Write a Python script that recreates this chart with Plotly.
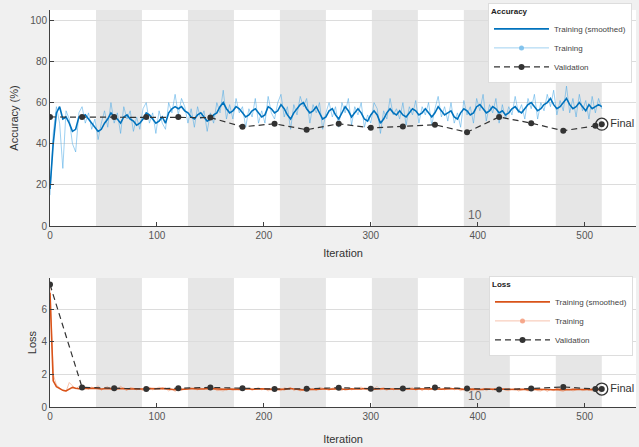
import plotly.graph_objects as go

# ---------------- data ----------------
STEP = 3  # iteration spacing of the sampled training series
acc_smooth = [18, 40, 55, 58, 52, 53, 50, 46, 47, 53, 53, 54, 52, 50, 48, 46, 47, 50, 52, 55,
              53, 52, 50, 53, 54, 52, 51, 49, 50, 52, 55, 54, 52, 50, 51, 53, 50, 55, 57, 58,
              57, 58, 56, 55, 53, 52, 54, 55, 53, 51, 52, 54, 55, 58, 60, 57, 55, 56, 58, 57,
              55, 53, 54, 56, 57, 55, 53, 54, 58, 57, 55, 56, 59, 57, 54, 52, 55, 57, 59, 60,
              57, 55, 56, 58, 55, 52, 53, 56, 57, 54, 52, 55, 58, 56, 53, 55, 57, 55, 52, 51,
              54, 56, 54, 50, 52, 55, 57, 55, 54, 56, 54, 53, 55, 57, 56, 54, 55, 57, 55, 53,
              55, 58, 56, 54, 55, 56, 53, 52, 55, 57, 56, 54, 55, 58, 59, 57, 55, 56, 58, 57,
              55, 56, 54, 55, 57, 58, 56, 55, 57, 59, 60, 58, 56, 57, 59, 60, 62, 59, 57, 58,
              60, 62, 59, 57, 58, 60, 58, 56, 59, 57, 58, 59, 58]
acc_raw = [15, 45, 58, 50, 28, 56, 52, 40, 36, 55, 58, 50, 55, 47, 52, 42, 50, 56, 48, 60,
           50, 55, 45, 58, 52, 56, 46, 53, 47, 57, 60, 50, 55, 45, 56, 50, 47, 60, 55, 64,
           54, 62, 58, 50, 57, 48, 58, 52, 56, 46, 55, 50, 60, 55, 66, 52, 59, 52, 62, 55,
           58, 48, 57, 53, 62, 50, 56, 50, 63, 55, 52, 60, 64, 53, 58, 47, 59, 54, 63, 58,
           62, 50, 59, 55, 60, 47, 55, 60, 53, 58, 48, 60, 55, 62, 49, 58, 54, 60, 48, 54,
           50, 60, 57, 45, 56, 52, 62, 54, 57, 52, 60, 49, 58, 54, 61, 50, 58, 54, 60, 49,
           57, 63, 53, 58, 51, 60, 50, 55, 48, 61, 54, 58, 50, 62, 56, 64, 51, 59, 55, 62,
           50, 59, 52, 58, 54, 63, 55, 59, 52, 62, 57, 64, 52, 60, 56, 64, 58, 66, 54, 61,
           56, 68, 55, 62, 53, 64, 56, 61, 52, 63, 55, 62, 57]
loss_smooth = [7.0, 1.6, 1.25, 1.15, 1.02, 0.98, 1.1, 1.2, 1.15, 1.12, 1.14, 1.13, 1.12, 1.14, 1.15, 1.12, 1.1, 1.12, 1.14, 1.13,
               1.11, 1.12, 1.15, 1.13, 1.1, 1.11, 1.14, 1.12, 1.1, 1.09, 1.11, 1.13, 1.12, 1.1, 1.12, 1.14, 1.12, 1.08, 1.07, 1.06,
               1.08, 1.07, 1.09, 1.1, 1.12, 1.13, 1.1, 1.09, 1.11, 1.13, 1.12, 1.1, 1.09, 1.06, 1.05, 1.08, 1.1, 1.09, 1.07, 1.08,
               1.1, 1.12, 1.11, 1.09, 1.08, 1.1, 1.12, 1.11, 1.07, 1.08, 1.1, 1.09, 1.06, 1.08, 1.11, 1.13, 1.1, 1.08, 1.06, 1.05,
               1.08, 1.1, 1.09, 1.07, 1.1, 1.13, 1.12, 1.09, 1.08, 1.11, 1.13, 1.1, 1.07, 1.09, 1.12, 1.1, 1.08, 1.1, 1.13, 1.14,
               1.11, 1.09, 1.11, 1.15, 1.13, 1.1, 1.08, 1.1, 1.11, 1.09, 1.1, 1.12, 1.1, 1.08, 1.09, 1.11, 1.1, 1.08, 1.1, 1.12,
               1.1, 1.07, 1.09, 1.11, 1.1, 1.09, 1.12, 1.13, 1.1, 1.08, 1.09, 1.11, 1.1, 1.07, 1.06, 1.08, 1.1, 1.09, 1.07, 1.08,
               1.1, 1.09, 1.11, 1.1, 1.08, 1.07, 1.09, 1.1, 1.08, 1.06, 1.05, 1.07, 1.09, 1.08, 1.06, 1.05, 1.03, 1.06, 1.08, 1.07,
               1.05, 1.03, 1.06, 1.08, 1.07, 1.05, 1.07, 1.09, 1.06, 1.08, 1.07, 1.06, 1.07]
loss_raw = [7.3, 2.0, 1.35, 1.2, 1.0, 0.95, 1.5, 1.3, 1.1, 1.25, 1.05, 1.2, 1.08, 1.22, 1.15, 1.3, 1.02, 1.18, 1.25, 1.05,
            1.15, 1.08, 1.28, 1.1, 1.0, 1.2, 1.15, 1.05, 1.12, 1.0, 1.18, 1.2, 1.05, 1.12, 1.22, 1.1, 1.15, 0.98, 1.1, 0.95,
            1.12, 1.02, 1.15, 1.1, 1.2, 1.08, 1.05, 1.15, 1.12, 1.2, 1.05, 1.15, 1.0, 1.02, 0.98, 1.15, 1.1, 1.02, 1.05, 1.12,
            1.18, 1.08, 1.15, 1.02, 1.1, 1.2, 1.05, 1.12, 0.98, 1.15, 1.1, 1.02, 1.0, 1.18, 1.12, 1.2, 1.0, 1.1, 0.98, 1.05,
            1.15, 1.05, 1.12, 1.02, 1.2, 1.15, 1.1, 1.02, 1.15, 1.18, 1.08, 1.02, 1.15, 1.2, 1.05, 1.1, 1.15, 1.22, 1.1, 1.05,
            1.12, 1.15, 1.25, 1.05, 1.1, 1.02, 1.15, 1.05, 1.1, 1.15, 1.05, 1.08, 1.12, 1.18, 1.02, 1.15, 1.0, 1.15, 1.05, 1.12,
            1.02, 1.15, 1.12, 1.05, 1.15, 1.18, 1.05, 1.12, 1.0, 1.08, 1.15, 1.02, 1.0, 1.12, 1.05, 1.15, 1.0, 1.1, 1.05, 1.15,
            1.05, 1.12, 1.02, 1.0, 1.1, 1.15, 0.98, 1.05, 1.1, 0.98, 1.08, 1.12, 1.0, 0.98, 1.1, 0.95, 1.08, 1.0, 1.12, 1.0,
            0.95, 1.08, 1.1, 0.98, 1.05, 1.12, 1.0, 1.05, 1.1, 0.98, 1.08, 1.02, 1.05]

val_iters = [0, 30, 60, 90, 120, 150, 180, 210, 240, 270, 300, 330, 360, 390, 420, 450, 480, 510, 516]
val_acc = [53, 53, 53, 53, 53, 52.7, 48.2, 49.7, 46.8, 49.7, 47.7, 48.4, 49.2, 45.6, 53, 50, 46.3, 48.7, 49.5]
val_loss = [7.5, 1.2, 1.15, 1.1, 1.15, 1.2, 1.15, 1.1, 1.12, 1.18, 1.12, 1.13, 1.19, 1.13, 1.07, 1.13, 1.23, 1.1, 1.1]

EPOCH_LEN = 43
N_EPOCHS = 12
epoch_label = "10"
epoch_label_iter = 397
x_ticks = [0, 100, 200, 300, 400, 500]

# ---------------- style ----------------
C_ACC = "#0072BD"
C_ACC_RAW = "rgba(77,170,230,0.55)"
C_LOSS = "#D95319"
C_LOSS_RAW = "rgba(240,150,110,0.55)"
C_VAL = "#333333"
FONT = "Liberation Sans"

def iters(series):
    return [STEP * i for i in range(len(series))]

fig = go.Figure()

# accuracy panel
fig.add_trace(go.Scatter(x=iters(acc_raw), y=acc_raw, mode="lines", line=dict(color=C_ACC_RAW, width=1),
                         showlegend=False, xaxis="x", yaxis="y"))
fig.add_trace(go.Scatter(x=iters(acc_smooth), y=acc_smooth, mode="lines", line=dict(color=C_ACC, width=1.6),
                         name="Training (smoothed)", legend="legend", xaxis="x", yaxis="y"))
fig.add_trace(go.Scatter(x=[None], y=[None], mode="lines+markers", line=dict(color="rgba(120,190,235,0.7)", width=1),
                         marker=dict(size=5, color="rgba(120,190,235,0.9)"),
                         name="Training", legend="legend", xaxis="x", yaxis="y"))
fig.add_trace(go.Scatter(x=val_iters, y=val_acc, mode="lines+markers",
                         line=dict(color=C_VAL, width=1.2, dash="6px,4px"), marker=dict(size=6, color=C_VAL),
                         name="Validation", legend="legend", xaxis="x", yaxis="y"))
fig.add_trace(go.Scatter(x=val_iters[-1:], y=val_acc[-1:], mode="markers+text", text=["Final"],
                         textposition="middle right", textfont=dict(family=FONT, size=11, color="#333"),
                         marker=dict(size=12, color="rgba(0,0,0,0)", line=dict(color=C_VAL, width=1.3)),
                         showlegend=False, xaxis="x", yaxis="y", cliponaxis=False))

# loss panel
fig.add_trace(go.Scatter(x=iters(loss_raw), y=loss_raw, mode="lines", line=dict(color=C_LOSS_RAW, width=1),
                         showlegend=False, xaxis="x2", yaxis="y2"))
fig.add_trace(go.Scatter(x=iters(loss_smooth), y=loss_smooth, mode="lines", line=dict(color=C_LOSS, width=1.6),
                         name="Training (smoothed)", legend="legend2", xaxis="x2", yaxis="y2"))
fig.add_trace(go.Scatter(x=[None], y=[None], mode="lines+markers", line=dict(color="rgba(245,170,140,0.7)", width=1),
                         marker=dict(size=5, color="rgba(245,160,130,0.9)"),
                         name="Training", legend="legend2", xaxis="x2", yaxis="y2"))
fig.add_trace(go.Scatter(x=val_iters, y=val_loss, mode="lines+markers",
                         line=dict(color=C_VAL, width=1.2, dash="6px,4px"), marker=dict(size=6, color=C_VAL),
                         name="Validation", legend="legend2", xaxis="x2", yaxis="y2"))
fig.add_trace(go.Scatter(x=val_iters[-1:], y=val_loss[-1:], mode="markers+text", text=["Final"],
                         textposition="middle right", textfont=dict(family=FONT, size=11, color="#333"),
                         marker=dict(size=12, color="rgba(0,0,0,0)", line=dict(color=C_VAL, width=1.3)),
                         showlegend=False, xaxis="x2", yaxis="y2", cliponaxis=False))

# epoch bands
shapes = []
for e in range(N_EPOCHS):
    if e % 2 == 1:
        for xr, yr in (("x", "y domain"), ("x2", "y2 domain")):
            shapes.append(dict(type="rect", xref=xr, yref=yr, x0=e * EPOCH_LEN, x1=(e + 1) * EPOCH_LEN,
                               y0=0, y1=1, fillcolor="#e6e6e6", line=dict(width=0), layer="below"))

annotations = [
    dict(x=epoch_label_iter, y=0, xref="x", yref="y", text=epoch_label, showarrow=False,
         yanchor="bottom", font=dict(family=FONT, size=12, color="#666"), yshift=2),
    dict(x=epoch_label_iter, y=0, xref="x2", yref="y2", text=epoch_label, showarrow=False,
         yanchor="bottom", font=dict(family=FONT, size=12, color="#666"), yshift=2),
]

XDOM = [50 / 639, 636 / 639]
axis_common = dict(showline=True, linecolor="#404040", linewidth=1, ticks="inside", ticklen=4,
                   tickcolor="#404040", tickfont=dict(family=FONT, size=10, color="#555"), zeroline=False,
                   automargin=False)

fig.update_layout(
    width=639, height=447,
    margin=dict(l=0, r=0, t=0, b=0, autoexpand=False),
    paper_bgcolor="#f0f0f0", plot_bgcolor="white",
    font=dict(family=FONT, color="#333"),
    shapes=shapes, annotations=annotations,
    xaxis=dict(domain=XDOM, range=[0, 548], tickvals=x_ticks, showgrid=False, anchor="y",
               title=dict(text="Iteration", font=dict(family=FONT, size=11, color="#333"), standoff=9),
               **axis_common),
    yaxis=dict(domain=[1 - 226 / 447, 1 - 10 / 447], range=[0, 105], tickvals=[0, 20, 40, 60, 80, 100],
               showgrid=True, gridcolor="#dcdcdc", anchor="x",
               title=dict(text="Accuracy (%)", font=dict(family=FONT, size=11, color="#333"), standoff=9),
               **axis_common),
    xaxis2=dict(domain=XDOM, range=[0, 548], tickvals=x_ticks, showgrid=False, anchor="y2",
                title=dict(text="Iteration", font=dict(family=FONT, size=11, color="#333"), standoff=14),
                **axis_common),
    yaxis2=dict(domain=[1 - 407 / 447, 1 - 278 / 447], range=[0, 7.9], tickvals=[0, 2, 4, 6],
                showgrid=True, gridcolor="#dcdcdc", anchor="x2",
                title=dict(text="Loss", font=dict(family=FONT, size=11, color="#333"), standoff=2),
                **axis_common),
    legend=dict(x=488 / 639, y=1 - 3 / 447, xanchor="left", yanchor="top", bgcolor="white",
                bordercolor="#dddddd", borderwidth=1, itemwidth=55,
                title=dict(text="<b>Accuracy</b>", font=dict(family=FONT, size=8, color="#222")),
                font=dict(family=FONT, size=8, color="#444"), tracegroupgap=0),
    legend2=dict(x=489 / 639, y=1 - 276 / 447, xanchor="left", yanchor="top", bgcolor="white",
                 bordercolor="#dddddd", borderwidth=1, itemwidth=55,
                 title=dict(text="<b>Loss</b>", font=dict(family=FONT, size=8, color="#222")),
                 font=dict(family=FONT, size=8, color="#444"), tracegroupgap=0),
)

fig.write_html("out.html", config={"displayModeBar": False},
               post_script="document.body.style.margin='0';document.body.style.overflow='hidden';")
